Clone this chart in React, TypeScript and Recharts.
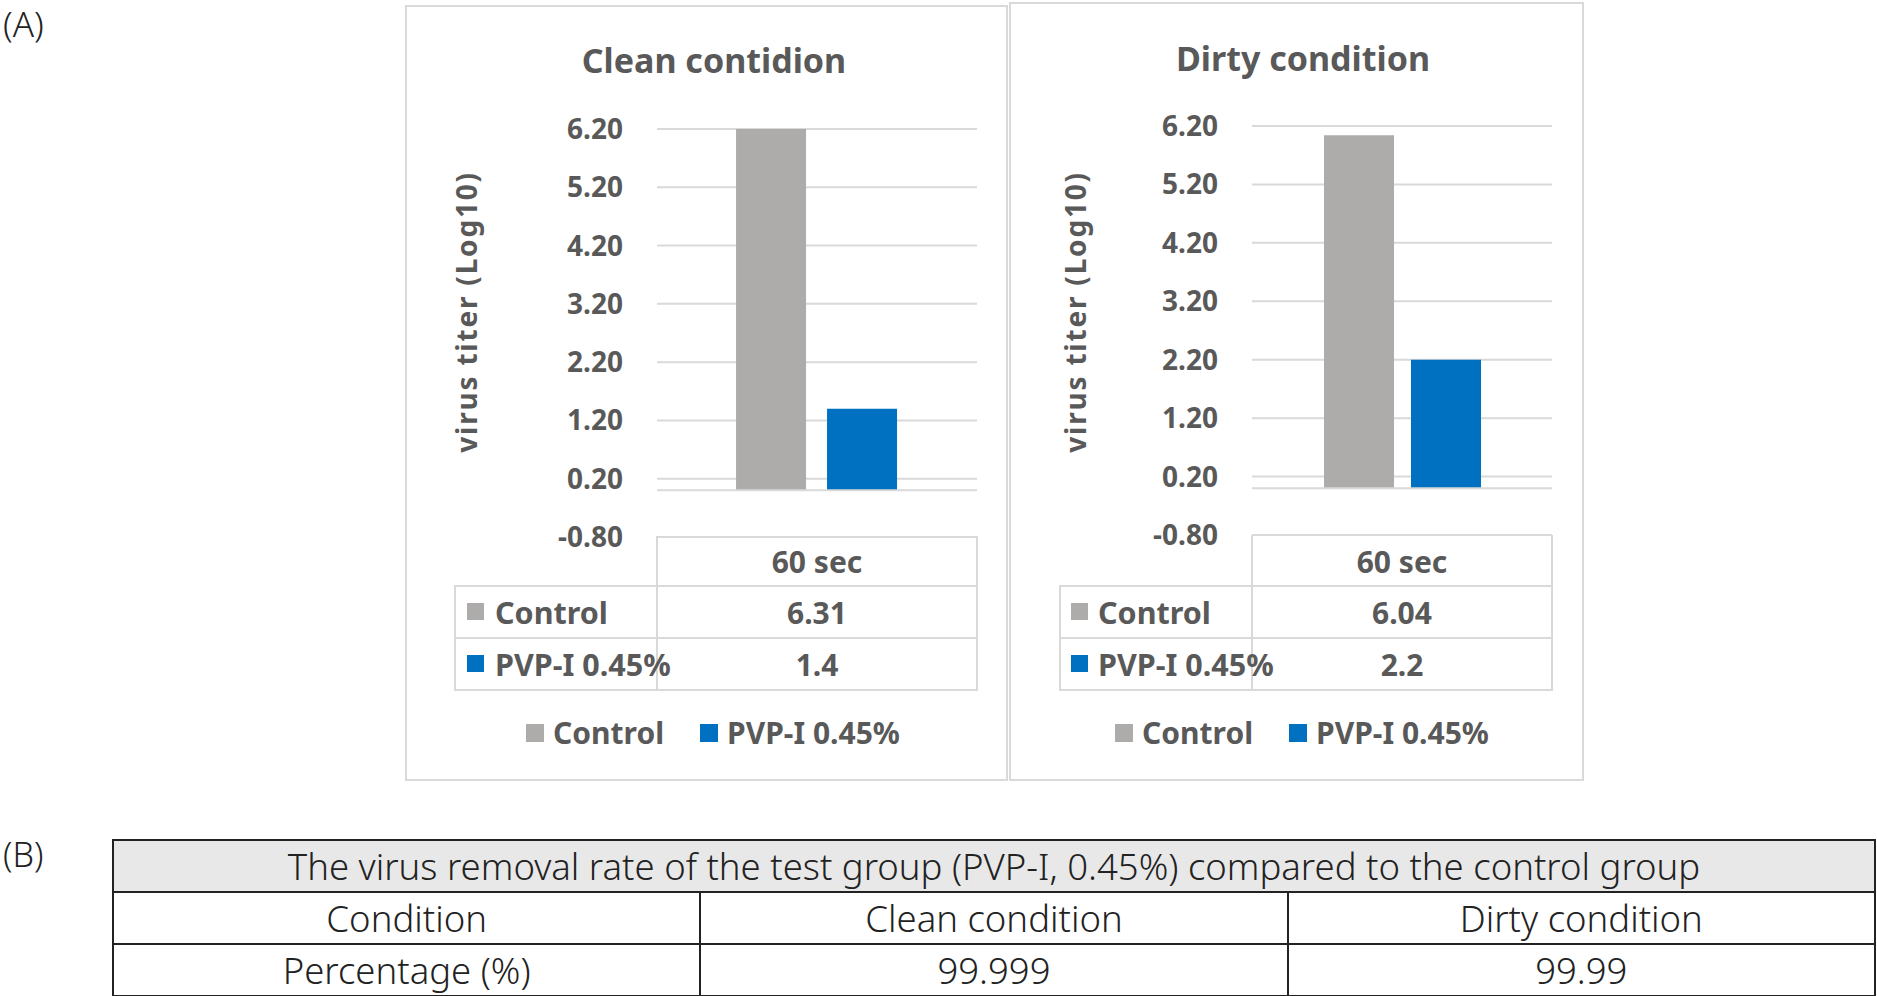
import React from 'react';
import { BarChart, Bar, XAxis, YAxis, CartesianGrid, ReferenceLine, Legend } from 'recharts';

// chart data
const panelTitles = ['Clean contidion', 'Dirty condition'];
const timePoints = ['60 sec'];
const seriesNames = ['Control', 'PVP-I 0.45%'];
const controlTiters = [6.31, 6.04]; // clean, dirty
const pvpTiters = [1.4, 2.2];
const yTicks = [-0.8, 0.2, 1.2, 2.2, 3.2, 4.2, 5.2, 6.2];
const yDomain = [-0.8, 6.2];
const yLabel = 'virus titer (Log10)';

// table (B)
const removalTitle = 'The virus removal rate of the test group (PVP-I, 0.45%) compared to the control group';
const removalColumns = ['Condition', 'Clean condition', 'Dirty condition'];
const removalRow = ['Percentage (%)', '99.999', '99.99'];

const GRAY = '#AEABAB';
const BLUE = '#0070C0';
const GRID = '#D9D9D9';
const TEXT = '#595959';
const INK = '#222222';
const FONT = "'Noto Sans', 'Open Sans', sans-serif";
const seriesColors = [GRAY, BLUE];

const layouts = [
  {
    x: 405, y: 5, w: 603, h: 776, titleX: 309, titleY: 68,
    plot: { top: 124, right: 31, bottom: 244, left: 252 },
    labelX: 61, labelY: 307,
    table: { left: 50, split: 252, right: 572, rows: [532, 581, 633, 685] },
    legendX: 308, legendY: 728, keyInset: 12, textInset: 40,
    barGap: 21, catGap: '24.7%',
  },
  {
    x: 1009, y: 2, w: 575, h: 779, titleX: 294, titleY: 69,
    plot: { top: 124, right: 32, bottom: 246, left: 243 },
    labelX: 66, labelY: 310,
    table: { left: 51, split: 243, right: 543, rows: [534, 584, 636, 688] },
    legendX: 293, legendY: 731, keyInset: 11, textInset: 38,
    barGap: 17, catGap: '24%',
  },
];

const YTitle = (props: any) => {
  const { px, py } = props;
  return (
    <text
      x={px}
      y={py}
      transform={`rotate(-90 ${px} ${py})`}
      textAnchor="middle"
      dominantBaseline="central"
      fill={TEXT}
      fontSize={28}
      fontWeight={700}
      letterSpacing={1.8}
    >
      {yLabel}
    </text>
  );
};

const LegendContent = (props: any) => {
  const { payload = [] } = props;
  return (
    <div style={{ display: 'flex', justifyContent: 'center', alignItems: 'center', height: 40 }}>
      {payload.map((p: any, i: number) => (
        <div key={p.value} style={{ display: 'flex', alignItems: 'center', marginLeft: i ? 36 : 0 }}>
          <span style={{ width: 18, height: 18, background: p.color, marginRight: 9, display: 'inline-block' }} />
          <span style={{ fontSize: 30, fontWeight: 700, color: TEXT, lineHeight: '40px' }}>{p.value}</span>
        </div>
      ))}
    </div>
  );
};

const hLine = (x1: number, x2: number, y: number, key: string) => (
  <div key={key} style={{ position: 'absolute', left: x1 - 1, top: y - 1, width: x2 - x1 + 2, height: 2, background: GRID }} />
);
const vLine = (x: number, y1: number, y2: number, key: string) => (
  <div key={key} style={{ position: 'absolute', left: x - 1, top: y1 - 1, width: 2, height: y2 - y1 + 2, background: GRID }} />
);

function DataTable({ l, idx }: { l: any; idx: number }) {
  const t = l.table;
  const [r0, r1, r2, r3] = t.rows;
  const values = [controlTiters[idx], pvpTiters[idx]];
  const rowTops = [r1, r2];
  const rowBottoms = [r2, r3];
  const txt: React.CSSProperties = { fontSize: 30, fontWeight: 700, color: TEXT, whiteSpace: 'nowrap' };
  return (
    <>
      {hLine(t.left, t.right, r1, 'h1')}
      {hLine(t.left, t.right, r2, 'h2')}
      {hLine(t.left, t.right, r3, 'h3')}
      {vLine(t.left, r1, r3, 'v0')}
      {vLine(t.split, r0, r3, 'v1')}
      {vLine(t.right, r0, r3, 'v2')}
      <div style={{ position: 'absolute', left: t.split, top: r0, width: t.right - t.split, height: r1 - r0, display: 'flex', alignItems: 'center', justifyContent: 'center', ...txt }}>
        {timePoints[0]}
      </div>
      {seriesNames.map((name, i) => (
        <React.Fragment key={name}>
          <div style={{ position: 'absolute', left: t.left + l.keyInset, top: (rowTops[i] + rowBottoms[i]) / 2 - 9, width: 17, height: 17, background: seriesColors[i] }} />
          <div style={{ position: 'absolute', left: t.left + l.textInset, top: rowTops[i], height: rowBottoms[i] - rowTops[i], display: 'flex', alignItems: 'center', ...txt, fontSize: 30.5 }}>
            {name}
          </div>
          <div style={{ position: 'absolute', left: t.split, top: rowTops[i], width: t.right - t.split, height: rowBottoms[i] - rowTops[i], display: 'flex', alignItems: 'center', justifyContent: 'center', ...txt }}>
            {String(values[i])}
          </div>
        </React.Fragment>
      ))}
    </>
  );
}

function Panel({ idx }: { idx: number }) {
  const l = layouts[idx];
  const data = [{ time: timePoints[0], control: controlTiters[idx], pvp: pvpTiters[idx] }];
  return (
    <div style={{ position: 'absolute', left: l.x, top: l.y, width: l.w, height: l.h }}>
      <div style={{ position: 'absolute', left: 0, top: 0, width: l.w, height: l.h, border: `2px solid ${GRID}`, boxSizing: 'border-box' }} />
      <div style={{ position: 'absolute', left: l.titleX - 250, top: l.titleY - 30, width: 500, textAlign: 'center', fontSize: 34, lineHeight: '34px', fontWeight: 700, color: TEXT }}>
        {panelTitles[idx]}
      </div>
      <div style={{ position: 'absolute', left: 0, top: 0 }}>
        <BarChart
          width={l.w}
          height={l.h}
          data={data}
          margin={{ top: l.plot.top, right: l.plot.right, bottom: l.plot.bottom, left: 0 }}
          barGap={l.barGap}
          barCategoryGap={l.catGap}
        >
          <CartesianGrid vertical={false} stroke={GRID} strokeWidth={2} />
          <XAxis dataKey="time" hide />
          <YAxis
            width={l.plot.left}
            domain={yDomain}
            ticks={yTicks}
            interval={0}
            allowDataOverflow
            axisLine={false}
            tickLine={false}
            tickSize={0}
            tickMargin={34}
            tickFormatter={(v: number) => v.toFixed(2)}
            tick={{ fill: TEXT, fontSize: 28, fontWeight: 700 }}
            label={<YTitle px={l.labelX} py={l.labelY} />}
          />
          <ReferenceLine y={0} stroke={GRID} strokeWidth={2} />
          <Bar dataKey="control" name={seriesNames[0]} fill={GRAY} isAnimationActive={false} />
          <Bar dataKey="pvp" name={seriesNames[1]} fill={BLUE} isAnimationActive={false} />
          <Legend
            layout="horizontal"
            verticalAlign="middle"
            align="center"
            content={<LegendContent />}
            wrapperStyle={{ left: l.legendX - 250, top: l.legendY - 20, width: 500, height: 40 }}
          />
        </BarChart>
      </div>
      <DataTable l={l} idx={idx} />
    </div>
  );
}

const cellStyle: React.CSSProperties = { border: `2px solid ${INK}`, textAlign: 'center', padding: 0, height: 50, lineHeight: '48px' };

export default function App() {
  return (
    <div style={{ position: 'absolute', left: 0, top: 0, width: 1877, height: 996, background: '#fff', overflow: 'hidden', fontFamily: FONT }}>
      <div style={{ position: 'absolute', left: 3, top: 5, fontSize: 35, lineHeight: '38px', fontWeight: 300, color: INK }}>(A)</div>
      <Panel idx={0} />
      <Panel idx={1} />
      <div style={{ position: 'absolute', left: 3, top: 836, fontSize: 34, lineHeight: '36px', fontWeight: 300, color: INK }}>(B)</div>
      <table
        style={{
          position: 'absolute', left: 112, top: 839, width: 1764, borderCollapse: 'collapse', tableLayout: 'fixed',
          fontSize: 36.5, fontWeight: 300, color: INK,
        }}
      >
        <tbody>
          <tr>
            <td colSpan={3} style={{ ...cellStyle, background: '#E8E8E8' }}>{removalTitle}</td>
          </tr>
          <tr>
            {removalColumns.map((c) => (
              <td key={c} style={cellStyle}>{c}</td>
            ))}
          </tr>
          <tr>
            {removalRow.map((c) => (
              <td key={c} style={cellStyle}>{c}</td>
            ))}
          </tr>
        </tbody>
      </table>
    </div>
  );
}
